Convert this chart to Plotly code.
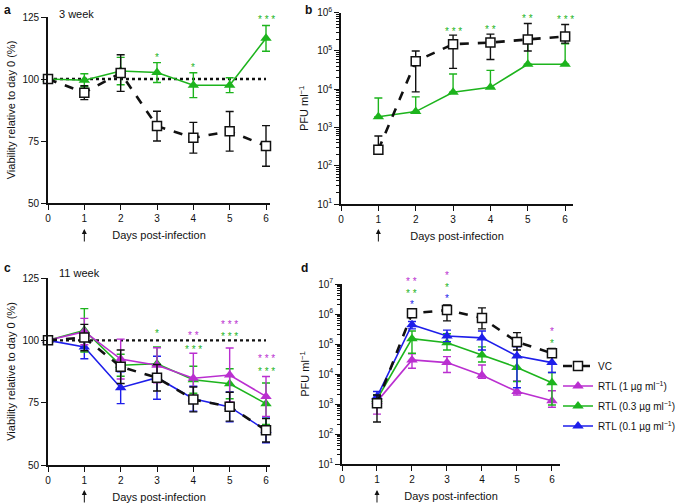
import numpy as np
import plotly.graph_objects as go

# ---------------------------------------------------------
# DATA
# ---------------------------------------------------------
DAYS = [0, 1, 2, 3, 4, 5, 6]
DAYS_PFU = [1, 2, 3, 4, 5, 6]

# panel a - viability, 3 week
A_VC = [100, 94.5, 102.4, 81.0, 76.3, 78.9, 73.0]
A_VC_ERR = [0, 2.8, 7.4, 6.0, 6.2, 8.0, 8.2]
A_RTL = [100, 99.5, 103.2, 102.6, 97.5, 97.5, 116.4]
A_RTL_ERR = [0, 2.6, 5.5, 4.0, 5.0, 3.0, 5.2]

# panel b - PFU, 3 week (mean, upper bound, lower bound)
B_VC = [260, 5.4e4, 1.5e5, 1.66e5, 2.0e5, 2.4e5]
B_VC_HI = [600, 1.0e5, 2.6e5, 2.75e5, 5.2e5, 4.9e5]
B_VC_LO = [200, 8.5e3, 3.5e4, 6.0e4, 1.0e5, 1.6e5]
B_RTL = [1900, 2600, 8300, 11200, 45000, 45000]
B_RTL_HI = [5900, 6300, 2.5e4, 3.1e4, 1.6e5, 1.55e5]
B_RTL_LO = [1900, 2600, 8300, 11200, 45000, 45000]

# panel c - viability, 11 week
C_VC = [100, 101.1, 89.4, 85.0, 76.3, 73.4, 63.9]
C_VC_ERR = [0, 5.3, 6.7, 5.3, 5.0, 5.8, 4.7]
C_RTL1 = [100, 103.5, 92.5, 90.0, 84.8, 86.1, 77.5]
C_RTL1_ERR = [0, 5.3, 8.0, 7.0, 10.0, 10.8, 8.0]
C_RTL03 = [100, 104.0, 90.0, 90.6, 84.2, 82.6, 74.6]
C_RTL03_ERR = [0, 8.7, 4.4, 6.7, 5.4, 6.0, 8.3]
C_RTL01 = [100, 97.3, 81.0, 85.0, 76.6, 73.3, 63.9]
C_RTL01_ERR = [0, 4.7, 6.4, 8.6, 5.0, 6.0, 5.0]

# panel d - PFU, 11 week
D_VC = [1050, 1.05e6, 1.35e6, 7.4e5, 1.17e5, 4.9e4]
D_VC_HI = [2000, 1.26e6, 2.0e6, 1.6e6, 2.4e5, 7.1e4]
D_VC_LO = [250, 9.0e5, 5.9e5, 3.2e5, 6.3e4, 4.0e4]
D_RTL1 = [1200, 2.95e4, 2.4e4, 9100, 2600, 1290]
D_RTL1_HI = [2000, 4.7e4, 3.8e4, 2.0e4, 5900, 2750]
D_RTL1_LO = [460, 1.55e4, 1.12e4, 7200, 2000, 780]
D_RTL03 = [1440, 1.5e5, 1.1e5, 4.3e4, 1.66e4, 5100]
D_RTL03_HI = [2000, 2.7e5, 2.2e5, 8.0e4, 4.0e4, 1.12e4]
D_RTL03_LO = [1000, 4.9e4, 6.3e4, 2.5e4, 5600, 930]
D_RTL01 = [1740, 4.4e5, 1.85e5, 1.6e5, 4.0e4, 2.4e4]
D_RTL01_HI = [2600, 5.6e5, 2.9e5, 2.7e5, 8.1e4, 3.6e4]
D_RTL01_LO = [1000, 3.2e5, 1.2e5, 6.3e4, 3500, 1.12e4]

# significance stars (day, stars, colour key, y level)
A_SIG = [(3, "*", "g", 110), (4, "*", "g", 106), (6, "***", "g", 125)]
B_SIG = [(3, "***", "g", 10**5.60), (4, "**", "g", 10**5.63),
         (5, "**", "g", 10**5.92), (6, "***", "g", 10**5.89)]
C_SIG = [(3, "*", "g", 104), (4, "**", "m", 103.1), (4, "***", "g", 97.7),
         (5, "***", "m", 107.6), (5, "***", "g", 102.7),
         (6, "***", "m", 93.9), (6, "***", "g", 88.9)]
D_SIG = [(2, "**", "m", 10**7.17), (2, "**", "g", 10**6.78), (2, "*", "b", 10**6.41),
         (3, "*", "m", 10**7.38), (3, "*", "g", 10**7.0), (3, "*", "b", 10**6.61),
         (6, "*", "m", 10**5.52), (6, "*", "g", 10**5.13)]

# ---------------------------------------------------------
# STYLE
# ---------------------------------------------------------
W, H = 685, 504
BLACK = "#111111"
GREEN = "#1DB41D"
MAGENTA = "#BA2FD0"
BLUE = "#1E1EEA"
SIG_COLORS = {"g": GREEN, "m": MAGENTA, "b": BLUE}
FONT = "Arial, Liberation Sans, sans-serif"


def px_x(p):
    return p / W


def px_y(p):
    return 1 - p / H


def add_series(fig, x, y, hi, lo, color, axes, name="", legend=False, rank=None,
               vc=False):
    xa, ya = axes
    fig.add_trace(go.Scatter(
        x=x, y=y, mode="lines+markers", name=name,
        showlegend=legend, legendrank=rank if rank else 1000,
        legendgroup=name if legend else None,
        line=dict(color=color, width=2.6 if vc else 1.6, dash="dash" if vc else "solid"),
        marker=dict(
            symbol="square" if vc else "triangle-up",
            size=9 if vc else 10,
            color="white" if vc else color,
            line=dict(color=color, width=1.5 if vc else 0),
        ),
        error_y=dict(type="data", symmetric=False, array=hi, arrayminus=lo,
                     color=color, thickness=1.4, width=4),
        cliponaxis=False,
        xaxis=xa, yaxis=ya,
    ))


def bounds_to_err(mean, hi, lo):
    m = np.array(mean, dtype=float)
    return list(np.array(hi) - m), list(m - np.array(lo))


fig = go.Figure()

# dotted 100 % reference lines (drawn first, below data)
for xa, ya in [("x", "y"), ("x3", "y3")]:
    fig.add_shape(type="line", xref=xa, yref=ya, x0=0, x1=6, y0=100, y1=100,
                  line=dict(color=BLACK, width=2.4, dash="dot"), layer="below")

# panel a
add_series(fig, DAYS, A_RTL, A_RTL_ERR, A_RTL_ERR, GREEN, ("x", "y"))
add_series(fig, DAYS, A_VC, A_VC_ERR, A_VC_ERR, BLACK, ("x", "y"), vc=True)

# panel b
hi, lo = bounds_to_err(B_RTL, B_RTL_HI, B_RTL_LO)
add_series(fig, DAYS_PFU, B_RTL, hi, lo, GREEN, ("x2", "y2"))
hi, lo = bounds_to_err(B_VC, B_VC_HI, B_VC_LO)
add_series(fig, DAYS_PFU, B_VC, hi, lo, BLACK, ("x2", "y2"), vc=True)

# panel c
add_series(fig, DAYS, C_RTL01, C_RTL01_ERR, C_RTL01_ERR, BLUE, ("x3", "y3"))
add_series(fig, DAYS, C_RTL03, C_RTL03_ERR, C_RTL03_ERR, GREEN, ("x3", "y3"))
add_series(fig, DAYS, C_RTL1, C_RTL1_ERR, C_RTL1_ERR, MAGENTA, ("x3", "y3"))
add_series(fig, DAYS, C_VC, C_VC_ERR, C_VC_ERR, BLACK, ("x3", "y3"), vc=True)

# panel d (carries the legend)
hi, lo = bounds_to_err(D_RTL1, D_RTL1_HI, D_RTL1_LO)
add_series(fig, DAYS_PFU, D_RTL1, hi, lo, MAGENTA, ("x4", "y4"),
           name="RTL (1 µg ml<sup>−1</sup>)", legend=True, rank=2)
hi, lo = bounds_to_err(D_RTL03, D_RTL03_HI, D_RTL03_LO)
add_series(fig, DAYS_PFU, D_RTL03, hi, lo, GREEN, ("x4", "y4"),
           name="RTL (0.3 µg ml<sup>−1</sup>)", legend=True, rank=3)
hi, lo = bounds_to_err(D_RTL01, D_RTL01_HI, D_RTL01_LO)
add_series(fig, DAYS_PFU, D_RTL01, hi, lo, BLUE, ("x4", "y4"),
           name="RTL (0.1 µg ml<sup>−1</sup>)", legend=True, rank=4)
hi, lo = bounds_to_err(D_VC, D_VC_HI, D_VC_LO)
add_series(fig, DAYS_PFU, D_VC, hi, lo, BLACK, ("x4", "y4"),
           name="VC", legend=True, rank=1, vc=True)

# ---------------------------------------------------------
# AXES
# ---------------------------------------------------------
axis_common = dict(
    showline=True, linecolor=BLACK, linewidth=1.6,
    ticks="outside", ticklen=5, tickwidth=1.4, tickcolor=BLACK,
    showgrid=False, zeroline=False, automargin=False,
    tickfont=dict(size=10, color=BLACK),
)
xtitle = dict(text="Days post-infection", font=dict(size=11, color=BLACK), standoff=9)

LOG_RANGE = {"y2": (1, 6), "y4": (1, 7)}


def log_minor(top):
    return [m * 10 ** k for k in range(1, top) for m in range(2, 10)]


layout_axes = dict(
    xaxis=dict(domain=[px_x(48), px_x(270)], range=[0, 6.11], anchor="y",
               tickvals=DAYS, title=xtitle, **axis_common),
    yaxis=dict(domain=[px_y(203), px_y(17)], range=[50, 125], anchor="x",
               tickvals=[50, 75, 100, 125],
               title=dict(text="Viability relative to day 0 (%)",
                          font=dict(size=11, color=BLACK), standoff=5),
               **axis_common),
    xaxis2=dict(domain=[px_x(341), px_x(573)], range=[0, 6.21], anchor="y2",
                tickvals=DAYS, title=xtitle, **axis_common),
    yaxis2=dict(domain=[px_y(204), px_y(12.7)], type="log", range=list(LOG_RANGE["y2"]),
                anchor="x2",
                tickvals=[10 ** k for k in range(1, 7)],
                ticktext=[f"10<sup>{k}</sup>" for k in range(1, 7)],
                minor=dict(tickvals=log_minor(6), ticks="outside", ticklen=3,
                           tickwidth=1, tickcolor=BLACK),
                title=dict(text="PFU ml<sup>−1</sup>", font=dict(size=11, color=BLACK),
                           standoff=6),
                **axis_common),
    xaxis3=dict(domain=[px_x(48), px_x(270)], range=[0, 6.11], anchor="y3",
                tickvals=DAYS, title=xtitle, **axis_common),
    yaxis3=dict(domain=[px_y(465), px_y(278)], range=[50, 125], anchor="x3",
                tickvals=[50, 75, 100, 125],
                title=dict(text="Viability relative to day 0 (%)",
                           font=dict(size=11, color=BLACK), standoff=5),
                **axis_common),
    xaxis4=dict(domain=[px_x(342), px_x(560)], range=[0, 6.23], anchor="y4",
                tickvals=DAYS, title=xtitle, **axis_common),
    yaxis4=dict(domain=[px_y(464), px_y(284)], type="log", range=list(LOG_RANGE["y4"]),
                anchor="x4",
                tickvals=[10 ** k for k in range(1, 8)],
                ticktext=[f"10<sup>{k}</sup>" for k in range(1, 8)],
                minor=dict(tickvals=log_minor(7), ticks="outside", ticklen=3,
                           tickwidth=1, tickcolor=BLACK),
                title=dict(text="PFU ml<sup>−1</sup>", font=dict(size=11, color=BLACK),
                           standoff=6),
                **axis_common),
)

# ---------------------------------------------------------
# ANNOTATIONS
# ---------------------------------------------------------
annotations = []


def star_notes(sig, xa, ya):
    # log panels: place in "domain" units so stars above the axis top still show
    for day, stars, key, yv in sig:
        if ya in LOG_RANGE:
            lo, hi = LOG_RANGE[ya]
            yref, ypos = f"{ya} domain", (np.log10(yv) - lo) / (hi - lo)
        else:
            yref, ypos = ya, yv
        annotations.append(dict(
            x=day, y=ypos, xref=xa, yref=yref, xanchor="center", yanchor="middle",
            text=" ".join(stars), showarrow=False, yshift=-3,
            font=dict(size=10, color=SIG_COLORS[key]),
        ))


star_notes(A_SIG, "x", "y")
star_notes(B_SIG, "x2", "y2")
star_notes(C_SIG, "x3", "y3")
star_notes(D_SIG, "x4", "y4")

# panel letters and labels
for letter, xp, yp in [("a", 2, 10), ("b", 303, 10), ("c", 2, 268), ("d", 299, 268)]:
    annotations.append(dict(x=px_x(xp), y=px_y(yp), xref="paper", yref="paper",
                            xanchor="left", yanchor="middle", text=f"<b>{letter}</b>",
                            showarrow=False, font=dict(size=12, color=BLACK)))
for label, yp in [("3 week", 14), ("11 week", 273)]:
    annotations.append(dict(x=px_x(57), y=px_y(yp), xref="paper", yref="paper",
                            xanchor="left", yanchor="middle", text=label,
                            showarrow=False, font=dict(size=11, color=BLACK)))

# infection arrows under day 1
for xa, tip in [("x", 229), ("x2", 229), ("x3", 490), ("x4", 490)]:
    annotations.append(dict(x=1, xref=xa, y=px_y(tip), yref="paper", text="",
                            showarrow=True, ax=0, ay=14, arrowhead=2, arrowsize=1,
                            arrowwidth=1, arrowcolor=BLACK))

fig.update_layout(
    width=W, height=H,
    margin=dict(l=0, r=0, t=0, b=0),
    paper_bgcolor="white", plot_bgcolor="white",
    font=dict(family=FONT, size=11, color=BLACK),
    showlegend=True,
    legend=dict(x=px_x(558), y=px_y(396), xanchor="left", yanchor="middle",
                bgcolor="rgba(0,0,0,0)", font=dict(size=10, color=BLACK),
                itemwidth=30, tracegroupgap=1),
    annotations=annotations,
    **layout_axes,
)

# the page body has a default 8px margin; drop it so the figure fills the window
fig.write_html("out.html", config={"displayModeBar": False},
               post_script="document.body.style.margin='0';")
